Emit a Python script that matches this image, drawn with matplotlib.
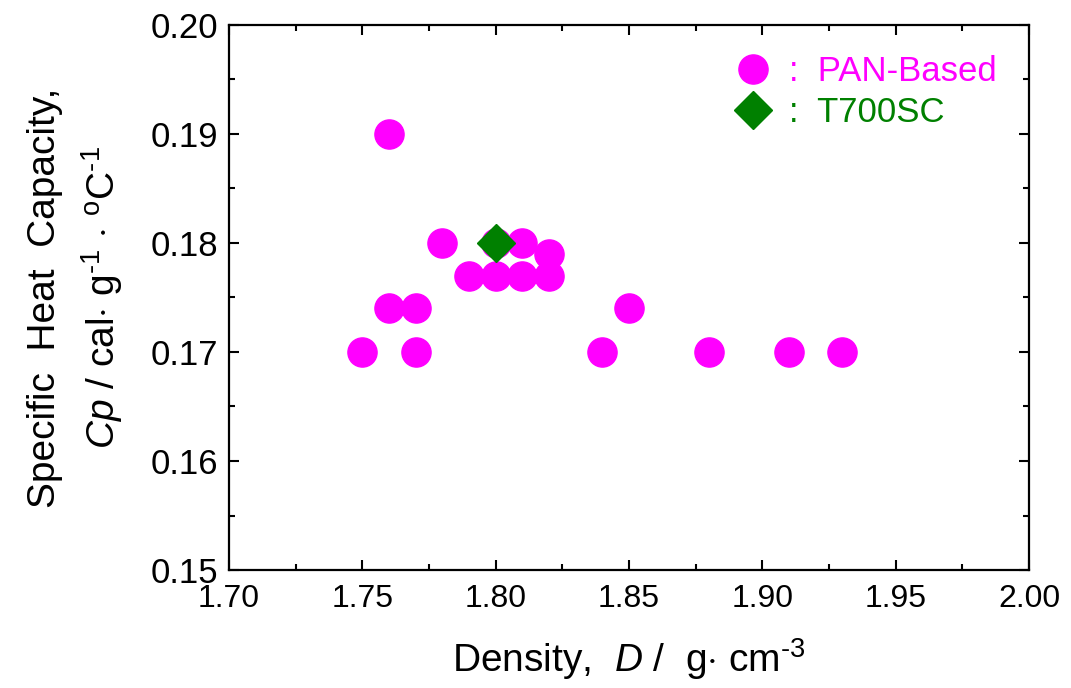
import matplotlib
matplotlib.use("Agg")
import matplotlib.pyplot as plt

plt.rcParams.update({
    "font.family": "Liberation Sans",
    "mathtext.fontset": "custom",
    "mathtext.rm": "Liberation Sans",
    "mathtext.it": "Liberation Sans:italic",
    "xtick.direction": "in",
    "ytick.direction": "in",
    "xtick.top": True,
    "ytick.right": True,
})

# PAN-based carbon fibres
pan_density = [1.75, 1.76, 1.76, 1.77, 1.77, 1.78, 1.79, 1.80, 1.80, 1.81,
               1.81, 1.82, 1.82, 1.84, 1.85, 1.88, 1.91, 1.93]
pan_cp = [0.170, 0.190, 0.174, 0.174, 0.170, 0.180, 0.177, 0.177, 0.180, 0.180,
          0.177, 0.179, 0.177, 0.170, 0.174, 0.170, 0.170, 0.170]
# T700SC
t700_density = [1.80]
t700_cp = [0.180]

xticks = [1.70, 1.75, 1.80, 1.85, 1.90, 1.95, 2.00]
yticks = [0.15, 0.16, 0.17, 0.18, 0.19, 0.20]

fig = plt.figure(figsize=(10.71, 6.88), dpi=100)
ax = fig.add_axes([0.2138, 0.1715, 0.747, 0.7922])

ax.plot(pan_density, pan_cp, "o", color="#FF00FF", markersize=21,
        linestyle="none", label=":  PAN-Based")
ax.plot(t700_density, t700_cp, "D", color="#008000", markersize=19.5,
        linestyle="none", label=":  T700SC")

ax.set_xlim(1.70, 2.00)
ax.set_ylim(0.15, 0.20)
ax.set_xticks(xticks)
ax.set_yticks(yticks)
ax.set_xticklabels([f"{v:.2f}" for v in xticks], fontsize=23)
ax.set_yticklabels([f"{v:.2f}" for v in yticks], fontsize=25)
ax.set_xticks([1.725, 1.775, 1.825, 1.875, 1.925, 1.975], minor=True)
ax.set_yticks([0.155, 0.165, 0.175, 0.185, 0.195], minor=True)
ax.tick_params(which="major", length=7, width=1.5)
ax.tick_params(axis="x", which="major", pad=10)
ax.tick_params(axis="y", which="major", pad=8)
ax.tick_params(which="minor", length=4.5, width=1.5)
for s in ax.spines.values():
    s.set_linewidth(1.6)

ax.set_xlabel(r"Density,  $D$ /  g$\cdot$ cm$^{\text{-}3}$", fontsize=28, labelpad=16)
ax.set_ylabel("Specific  Heat  Capacity,\n"
              + r"$Cp$ / cal$\cdot$ g$^{\text{-}1}$ $\cdot$ $^{\rm o}$C$^{\text{-}1}$",
              fontsize=28, labelpad=18, linespacing=1.45)

leg = ax.legend(loc="upper right", bbox_to_anchor=(0.99, 0.99), frameon=False,
                fontsize=25, handletextpad=0.55, handlelength=1.0,
                labelspacing=0.25, borderaxespad=0.3)
for txt, col in zip(leg.get_texts(), ["#FF00FF", "#008000"]):
    txt.set_color(col)

fig.savefig("out.png", dpi=100)
